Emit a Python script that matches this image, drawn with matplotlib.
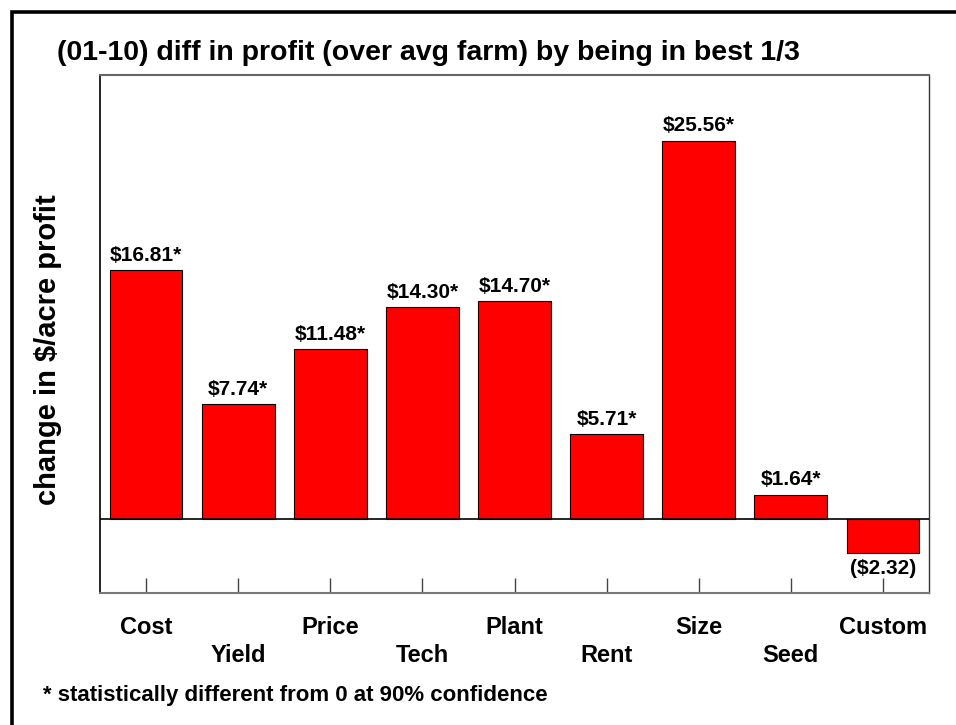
import matplotlib
matplotlib.use("Agg")
import matplotlib.pyplot as plt
from matplotlib.patches import Rectangle

# Данные графика
categories = ['Cost', 'Yield', 'Price', 'Tech', 'Plant', 'Rent', 'Size', 'Seed', 'Custom']
values = [16.81, 7.74, 11.48, 14.30, 14.70, 5.71, 25.56, 1.64, -2.32]
significant = [True, True, True, True, True, True, True, True, False]

title = '(01-10) diff in profit (over avg farm) by being in best 1/3'
ylabel = 'change in \\$/acre profit'
footnote = '* statistically different from 0 at 90% confidence'


def value_label(v, star):
    if v < 0:
        s = '(\\$%.2f)' % abs(v)
    else:
        s = '\\$%.2f' % v
    return s + ('*' if star else '')


plt.rcParams['font.family'] = ['Liberation Sans', 'DejaVu Sans']
plt.rcParams['font.weight'] = 'bold'

W, H = 956, 725
fig = plt.figure(figsize=(W / 100, H / 100), dpi=100)
ax = fig.add_axes([100 / W, 1 - 593 / H, (929 - 100) / W, (593 - 75) / H])

x = list(range(len(categories)))
bars = ax.bar(x, values, width=0.79, color='#ff0000', edgecolor='black', linewidth=0.8, zorder=2)
ax.axhline(0, color='black', lw=1.2, zorder=3)

ax.set_xlim(-0.5, len(categories) - 0.5)
ax.set_ylim(-5, 30)
ax.set_yticks([])
ax.set_xticks(x)
ax.set_xticklabels([])
ax.tick_params(axis='x', direction='in', length=10.8, width=1, color='#444444')

ax.spines['left'].set_color('black')
ax.spines['left'].set_linewidth(1.2)
ax.spines['right'].set_color('#333333')
ax.spines['right'].set_linewidth(1.0)
ax.spines['top'].set_color('#666666')
ax.spines['top'].set_linewidth(1.5)
ax.spines['bottom'].set_color('#777777')
ax.spines['bottom'].set_linewidth(1.5)

# подписи значений
for xi, v, st in zip(x, values, significant):
    if v >= 0:
        ax.annotate(value_label(v, st), xy=(xi, v), xytext=(0, 4), textcoords='offset points',
                    ha='center', va='bottom', fontsize=15, fontweight='bold')
    else:
        ax.annotate(value_label(v, st), xy=(xi, v), xytext=(0, -4), textcoords='offset points',
                    ha='center', va='top', fontsize=15, fontweight='bold')

# подписи категорий в два ряда
for xi, name in zip(x, categories):
    dy = -35 if xi % 2 == 0 else -63
    ax.annotate(name, xy=(xi, 0), xycoords=('data', 'axes fraction'),
                xytext=(0, dy * 0.72), textcoords='offset points',
                ha='center', va='center', fontsize=17, fontweight='bold', annotation_clip=False)

fig.text(57 / W, 1 - 53 / H, title, ha='left', va='center', fontsize=20.5, fontweight='bold')
fig.text(48 / W, 1 - 350 / H, ylabel, ha='center', va='center', rotation=90, fontsize=21, fontweight='bold')
fig.text(43 / W, 1 - 695 / H, footnote, ha='left', va='center', fontsize=16, fontweight='bold')

# рамка вокруг всего рисунка
fig.add_artist(Rectangle((12 / W, -0.1), 1.2, 1.1 - 11.5 / H, transform=fig.transFigure,
                         fill=False, edgecolor='black', linewidth=2.6, clip_on=False))

fig.savefig('out.png', dpi=100)
